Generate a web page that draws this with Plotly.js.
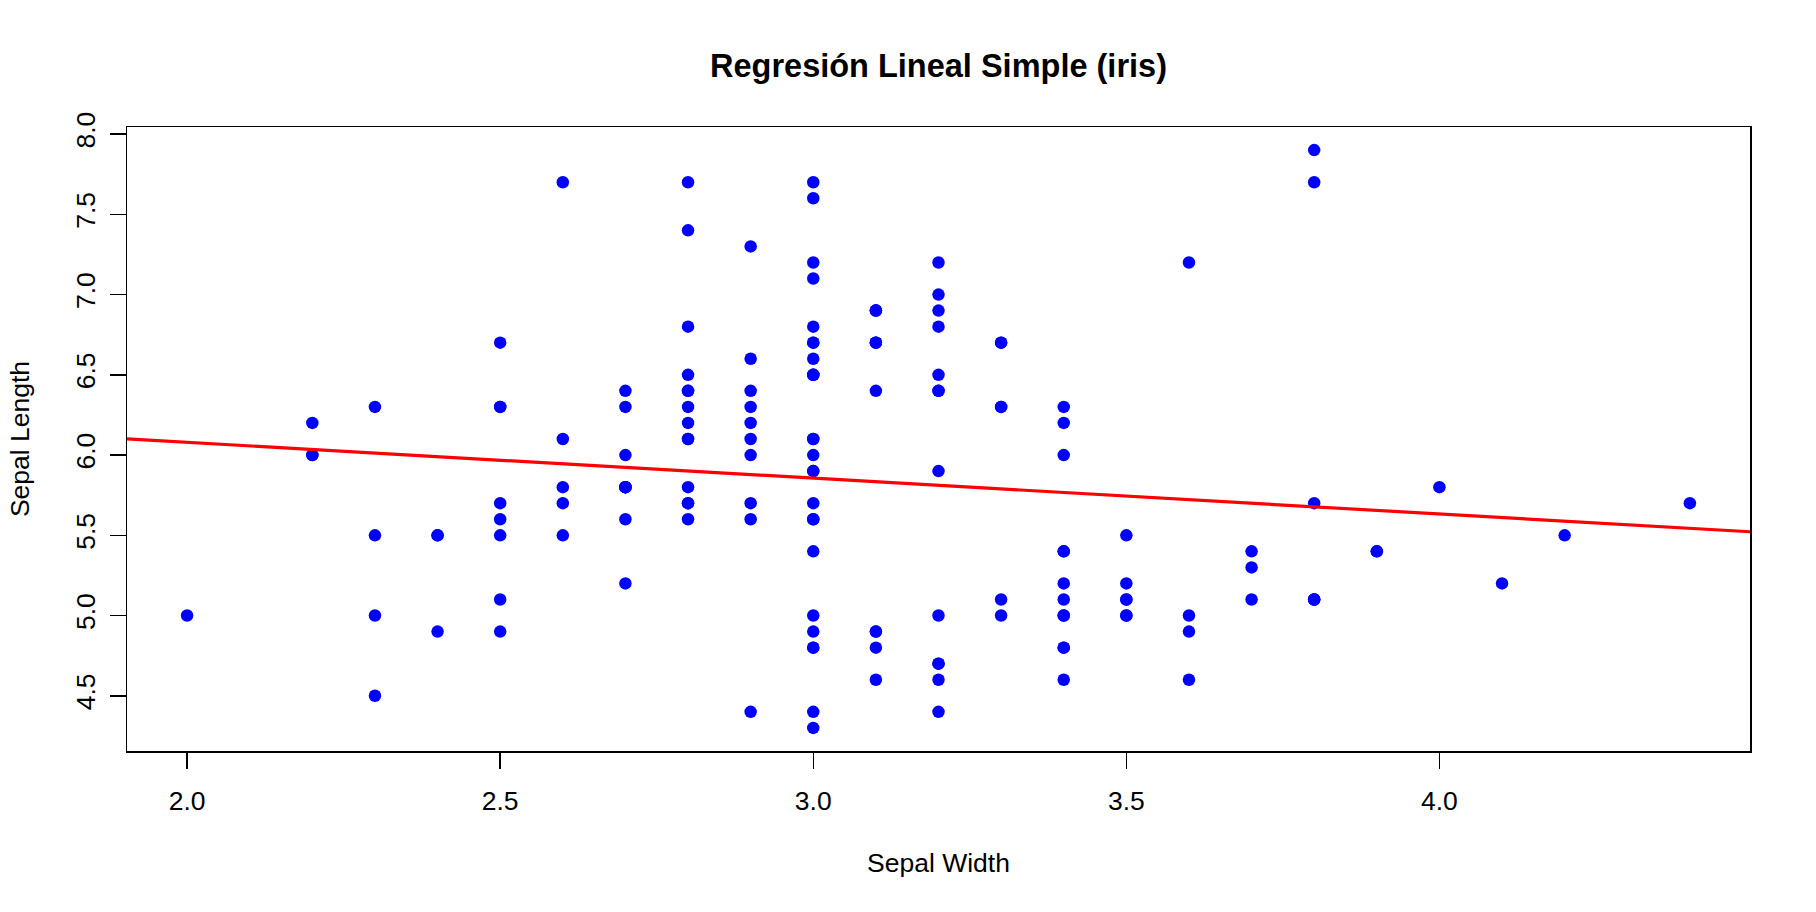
<!DOCTYPE html>
<html>
<head>
<meta charset="utf-8">
<script src="https://cdn.plot.ly/plotly-3.0.1.min.js"></script>
<style>html,body{margin:0;padding:0;background:#fff;}#chart{width:1816px;height:912px;}</style>
</head>
<body>
<div id="chart"></div>
<script>
// iris: Sepal.Width (x) and Sepal.Length (y)
const sepalWidth = [
3.5,3.0,3.2,3.1,3.6,3.9,3.4,3.4,2.9,3.1,3.7,3.4,3.0,3.0,4.0,4.4,3.9,3.5,3.8,3.8,
3.4,3.7,3.6,3.3,3.4,3.0,3.4,3.5,3.4,3.2,3.1,3.4,4.1,4.2,3.1,3.2,3.5,3.6,3.0,3.4,
3.5,2.3,3.2,3.5,3.8,3.0,3.8,3.2,3.7,3.3,
3.2,3.2,3.1,2.3,2.8,2.8,3.3,2.4,2.9,2.7,2.0,3.0,2.2,2.9,2.9,3.1,3.0,2.7,2.2,2.5,
3.2,2.8,2.5,2.8,2.9,3.0,2.8,3.0,2.9,2.6,2.4,2.4,2.7,2.7,3.0,3.4,3.1,2.3,3.0,2.5,
2.6,3.0,2.6,2.3,2.7,3.0,2.9,2.9,2.5,2.8,
3.3,2.7,3.0,2.9,3.0,3.0,2.5,2.9,2.5,3.6,3.2,2.7,3.0,2.5,2.8,3.2,3.0,3.8,2.6,2.2,
3.2,2.8,2.8,2.7,3.3,3.2,2.8,3.0,2.8,3.0,2.8,3.8,2.8,2.8,2.6,3.0,3.4,3.1,3.0,3.1,
3.1,3.1,2.7,3.2,3.3,3.0,2.5,3.0,3.4,3.0
];
const sepalLength = [
5.1,4.9,4.7,4.6,5.0,5.4,4.6,5.0,4.4,4.9,5.4,4.8,4.8,4.3,5.8,5.7,5.4,5.1,5.7,5.1,
5.4,5.1,4.6,5.1,4.8,5.0,5.0,5.2,5.2,4.7,4.8,5.4,5.2,5.5,4.9,5.0,5.5,4.9,4.4,5.1,
5.0,4.5,4.4,5.0,5.1,4.8,5.1,4.6,5.3,5.0,
7.0,6.4,6.9,5.5,6.5,5.7,6.3,4.9,6.6,5.2,5.0,5.9,6.0,6.1,5.6,6.7,5.6,5.8,6.2,5.6,
5.9,6.1,6.3,6.1,6.4,6.6,6.8,6.7,6.0,5.7,5.5,5.5,5.8,6.0,5.4,6.0,6.7,6.3,5.6,5.5,
5.5,6.1,5.8,5.0,5.6,5.7,5.7,6.2,5.1,5.7,
6.3,5.8,7.1,6.3,6.5,7.6,4.9,7.3,6.7,7.2,6.5,6.4,6.8,5.7,5.8,6.4,6.5,7.7,7.7,6.0,
6.9,5.6,7.7,6.3,6.7,7.2,6.2,6.1,6.4,7.2,7.4,7.9,6.4,6.3,6.1,7.7,6.3,6.4,6.0,6.9,
6.7,6.9,5.8,6.8,6.7,6.7,6.3,6.5,6.2,5.9
];
const xTicks = [2.0, 2.5, 3.0, 3.5, 4.0];
const xTickText = ["2.0", "2.5", "3.0", "3.5", "4.0"];
const yTicks = [4.5, 5.0, 5.5, 6.0, 6.5, 7.0, 7.5, 8.0];
const yTickText = ["4.5", "5.0", "5.5", "6.0", "6.5", "7.0", "7.5", "8.0"];

// R-style axis range (data range extended by 4%)
function rRange(a) {
  const mn = Math.min(...a), mx = Math.max(...a), d = (mx - mn) * 0.04;
  return [mn - d, mx + d];
}
const xr = rRange(sepalWidth), yr = rRange(sepalLength);

// least squares fit lm(Sepal.Length ~ Sepal.Width)
const n = sepalWidth.length;
const mx = sepalWidth.reduce((s, v) => s + v, 0) / n;
const my = sepalLength.reduce((s, v) => s + v, 0) / n;
let sxy = 0, sxx = 0;
for (let i = 0; i < n; i++) { sxy += (sepalWidth[i] - mx) * (sepalLength[i] - my); sxx += (sepalWidth[i] - mx) ** 2; }
const slope = sxy / sxx, intercept = my - slope * mx;
const lineX = [xr[0], xr[1]];
const lineY = lineX.map(v => intercept + slope * v);

const font = "Liberation Sans, Arial, sans-serif";
const traces = [
  { x: sepalWidth, y: sepalLength, type: "scatter", mode: "markers",
    marker: { color: "#0000FF", size: 12.5 }, hoverinfo: "x+y" },
  { x: lineX, y: lineY, type: "scatter", mode: "lines",
    line: { color: "#FF0000", width: 3.2 }, hoverinfo: "skip" }
];
const axisCommon = {
  showgrid: false, zeroline: false, showline: true, mirror: true,
  linecolor: "#000", linewidth: 1.5, ticks: "outside", ticklen: 16, tickwidth: 1.5,
  tickcolor: "#000", tickfont: { family: font, size: 26.5, color: "#000" }, tickmode: "array"
};
const layout = {
  width: 1816, height: 912,
  margin: { l: 127, r: 66, t: 127, b: 161, pad: 0 },
  paper_bgcolor: "#fff", plot_bgcolor: "#fff",
  showlegend: false,
  title: { text: "<b>Regresión Lineal Simple (iris)</b>", font: { family: font, size: 32.5, color: "#000" },
           x: 0.5, xref: "paper", y: 1 - 66 / 912, yref: "container", yanchor: "middle" },
  xaxis: Object.assign({}, axisCommon, {
    range: xr, tickvals: xTicks, ticktext: xTickText, ticklabelstandoff: 10,
    title: { text: "Sepal Width", font: { family: font, size: 26.5, color: "#000" }, standoff: 38 }
  }),
  yaxis: Object.assign({}, axisCommon, {
    range: yr, tickvals: yTicks, ticktext: yTickText, tickangle: -90, ticklabelstandoff: 4,
    title: { text: "Sepal Length", font: { family: font, size: 26.5, color: "#000" }, standoff: 33 }
  })
};
Plotly.newPlot("chart", traces, layout, { displayModeBar: false, staticPlot: true });
</script>
</body>
</html>
